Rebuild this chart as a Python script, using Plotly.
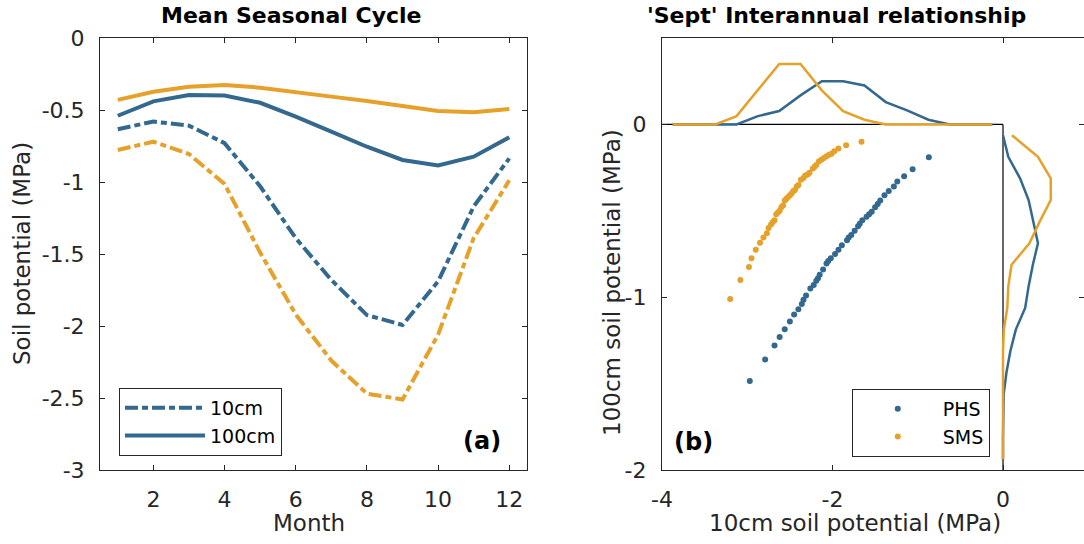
import plotly.graph_objects as go

# ---------------- data ----------------
MONTHS = [1, 2, 3, 4, 5, 6, 7, 8, 9, 10, 11, 12]
PHS_10CM = [-0.634, -0.58, -0.609, -0.73, -1.03, -1.39, -1.68, -1.924, -1.993, -1.69, -1.17, -0.836]
PHS_100CM = [-0.54, -0.44, -0.396, -0.40, -0.45, -0.546, -0.65, -0.755, -0.847, -0.885, -0.824, -0.69]
SMS_10CM = [-0.778, -0.72, -0.806, -1.014, -1.49, -1.92, -2.24, -2.47, -2.51, -2.06, -1.39, -0.988]
SMS_100CM = [-0.43, -0.373, -0.338, -0.326, -0.345, -0.373, -0.407, -0.438, -0.472, -0.507, -0.516, -0.493]

PHS_X10 = [-0.87, -1.06, -1.16, -1.24, -1.28, -1.34, -1.39, -1.44, -1.47, -1.50, -1.54, -1.57, -1.60,
           -1.65, -1.68, -1.70, -1.74, -1.78, -1.81, -1.83, -1.89, -1.93, -1.97, -2.02, -2.05, -2.07,
           -2.11, -2.15, -2.17, -2.19, -2.22, -2.26, -2.31, -2.34, -2.36, -2.40, -2.45, -2.50, -2.56,
           -2.62, -2.68, -2.79, -2.97]
PHS_Y100 = [-0.19, -0.26, -0.30, -0.33, -0.36, -0.385, -0.41, -0.44, -0.46, -0.48, -0.505, -0.52, -0.535,
            -0.555, -0.575, -0.59, -0.615, -0.64, -0.655, -0.67, -0.70, -0.725, -0.75, -0.775, -0.79, -0.805,
            -0.84, -0.87, -0.89, -0.905, -0.93, -0.95, -0.99, -1.015, -1.04, -1.07, -1.10, -1.14, -1.185,
            -1.23, -1.28, -1.36, -1.485]

SMS_X10 = [-1.66, -1.84, -1.93, -1.98, -2.01, -2.04, -2.07, -2.10, -2.13, -2.16, -2.19, -2.21, -2.23,
           -2.27, -2.29, -2.32, -2.34, -2.37, -2.40, -2.42, -2.44, -2.46, -2.48, -2.50, -2.52, -2.54,
           -2.56, -2.58, -2.60, -2.62, -2.64, -2.66, -2.68, -2.70, -2.72, -2.75, -2.77, -2.81, -2.85,
           -2.90, -2.95, -2.98, -3.08, -3.20]
SMS_Y100 = [-0.10, -0.12, -0.14, -0.155, -0.17, -0.175, -0.185, -0.195, -0.205, -0.215, -0.235, -0.245, -0.255,
            -0.28, -0.29, -0.295, -0.31, -0.32, -0.35, -0.36, -0.38, -0.385, -0.40, -0.41, -0.42, -0.43,
            -0.44, -0.47, -0.48, -0.50, -0.51, -0.52, -0.555, -0.565, -0.58, -0.60, -0.63, -0.655, -0.685,
            -0.725, -0.775, -0.825, -0.90, -1.01]

TOP_BINS = [-3.875, -3.625, -3.375, -3.125, -2.875, -2.625, -2.375, -2.125,
            -1.875, -1.625, -1.375, -1.125, -0.875, -0.625, -0.375, -0.125]
TOP_SMS = [0, 0, 0, 0.048, 0.20, 0.35, 0.35, 0.197, 0.077, 0.027, 0, 0, 0, 0, 0, 0]
TOP_PHS = [0, 0, 0, 0, 0.048, 0.077, 0.168, 0.25, 0.25, 0.225, 0.129, 0.081, 0.027, 0, 0, 0]

RIGHT_BINS = [-0.0625, -0.1875, -0.3125, -0.4375, -0.5625, -0.6875, -0.8125, -0.9375,
              -1.0625, -1.1875, -1.3125, -1.4375, -1.5625, -1.6875, -1.8125, -1.9375]
RIGHT_PHS = [0.0, 0.062, 0.20, 0.30, 0.355, 0.41, 0.35, 0.30, 0.26, 0.15, 0.086, 0.04, 0.008, 0, 0, 0]
RIGHT_SMS = [0.105, 0.41, 0.56, 0.56, 0.43, 0.31, 0.10, 0.062, 0.05, 0.01, 0, 0, 0, 0, 0, 0]

LEFT_YTICKS = [0, -0.5, -1, -1.5, -2, -2.5, -3]
LEFT_YTEXT = ["0", "-0.5", "-1", "-1.5", "-2", "-2.5", "-3"]
LEFT_XTICKS = [2, 4, 6, 8, 10, 12]
RIGHT_XTICKS = [-4, -2, 0]
RIGHT_XTEXT = ["-4", "-2", "0"]
RIGHT_YTICKS = [0, -1, -2]
RIGHT_YTEXT = ["0", "-1", "-2"]

# ---------------- style ----------------
BLUE = "#33688F"
ORANGE = "#E5A12A"
AX = "#262626"
FONT = "DejaVu Sans"
DASHDOT = "13px,4px,6px,4px"

fig = go.Figure()

# Left panel
fig.add_trace(go.Scatter(x=MONTHS, y=SMS_100CM, mode="lines", line=dict(color=ORANGE, width=4),
                         showlegend=False, xaxis="x", yaxis="y"))
fig.add_trace(go.Scatter(x=MONTHS, y=SMS_10CM, mode="lines", line=dict(color=ORANGE, width=4, dash=DASHDOT),
                         showlegend=False, xaxis="x", yaxis="y"))
fig.add_trace(go.Scatter(x=MONTHS, y=PHS_10CM, mode="lines", name="10cm",
                         line=dict(color=BLUE, width=4, dash=DASHDOT), legend="legend", xaxis="x", yaxis="y"))
fig.add_trace(go.Scatter(x=MONTHS, y=PHS_100CM, mode="lines", name="100cm",
                         line=dict(color=BLUE, width=4), legend="legend", xaxis="x", yaxis="y"))

# Right panel marginals
fig.add_trace(go.Scatter(x=TOP_BINS, y=TOP_PHS, mode="lines", line=dict(color=BLUE, width=2.5),
                         showlegend=False, xaxis="x2", yaxis="y2"))
fig.add_trace(go.Scatter(x=TOP_BINS, y=TOP_SMS, mode="lines", line=dict(color=ORANGE, width=2.5),
                         showlegend=False, xaxis="x2", yaxis="y2"))
fig.add_trace(go.Scatter(x=RIGHT_PHS, y=RIGHT_BINS, mode="lines", line=dict(color=BLUE, width=2.5),
                         showlegend=False, xaxis="x2", yaxis="y2"))
fig.add_trace(go.Scatter(x=RIGHT_SMS, y=RIGHT_BINS, mode="lines", line=dict(color=ORANGE, width=2.5),
                         showlegend=False, xaxis="x2", yaxis="y2"))

# Right panel scatter
fig.add_trace(go.Scatter(x=PHS_X10, y=PHS_Y100, mode="markers", name="PHS",
                         marker=dict(color=BLUE, size=6), legend="legend2", xaxis="x2", yaxis="y2"))
fig.add_trace(go.Scatter(x=SMS_X10, y=SMS_Y100, mode="markers", name="SMS",
                         marker=dict(color=ORANGE, size=6), legend="legend2", xaxis="x2", yaxis="y2"))

# inner axes lines of the scatter (frame at y=0 and x=0)
fig.add_shape(type="line", xref="x2", yref="y2", x0=-4, x1=0, y0=0, y1=0,
              line=dict(color="black", width=1.2), layer="below")
fig.add_shape(type="line", xref="x2", yref="y2", x0=0, x1=0, y0=0, y1=-2,
              line=dict(color="black", width=1.2), layer="below")

axis_common = dict(showgrid=False, zeroline=False, showline=True, linecolor=AX, linewidth=1,
                   mirror="ticks", ticks="inside", ticklen=5, tickcolor=AX, tickwidth=1,
                   tickfont=dict(family=FONT, size=22, color=AX), ticklabelstandoff=10)

fig.update_layout(
    width=1084, height=544,
    margin=dict(l=100, r=0, t=38, b=74),
    paper_bgcolor="white", plot_bgcolor="white",
    font=dict(family=FONT, color=AX),
    xaxis=dict(domain=[0, 0.434], range=[0.5, 12.5], tickvals=LEFT_XTICKS, anchor="y", **axis_common),
    yaxis=dict(domain=[0, 1], range=[-3, 0], tickvals=LEFT_YTICKS, ticktext=LEFT_YTEXT, anchor="x", **axis_common),
    xaxis2=dict(domain=[0.5711, 1], range=[-4, 0.95], tickvals=RIGHT_XTICKS, ticktext=RIGHT_XTEXT,
                anchor="y2", **axis_common),
    yaxis2=dict(domain=[0, 1], range=[-2, 0.5], tickvals=RIGHT_YTICKS, ticktext=RIGHT_YTEXT,
                anchor="x2", **axis_common),
    legend=dict(x=0.0193, y=0.19, xanchor="left", yanchor="top", bgcolor="white",
                bordercolor=AX, borderwidth=1, itemwidth=80,
                font=dict(family=FONT, size=19, color="black")),
    legend2=dict(x=0.764, y=0.1875, xanchor="left", yanchor="top", bgcolor="white",
                 bordercolor=AX, borderwidth=1, itemwidth=80,
                 font=dict(family=FONT, size=19, color="black")),
)

def ann(text, x, y, size, bold=False, angle=0):
    fig.add_annotation(text=f"<b>{text}</b>" if bold else text, x=x, y=y, xref="paper", yref="paper",
                       xanchor="center", yanchor="middle", showarrow=False, textangle=angle,
                       font=dict(family=FONT, size=size, color="black" if bold else AX))

W, H, L, T = 984.0, 432.0, 100.0, 38.0
def px(xp):
    return (xp - L) / W
def py(yp):
    return (T + H - yp) / H

ann("Mean Seasonal Cycle", px(291), py(15), 22, bold=True)
ann("'Sept' Interannual relationship", px(836), py(15), 22, bold=True)
ann("Soil potential (MPa)", px(22), py(254), 23, angle=-90)
ann("Month", px(309), py(523), 23)
ann("10cm soil potential (MPa)", px(855), py(523), 23)
ann("100cm soil potential (MPa)", px(612), py(283), 23, angle=-90)
ann("(a)", px(482), py(441), 24, bold=True)
ann("(b)", px(693), py(442), 24, bold=True)

fig.write_html("out.html")
